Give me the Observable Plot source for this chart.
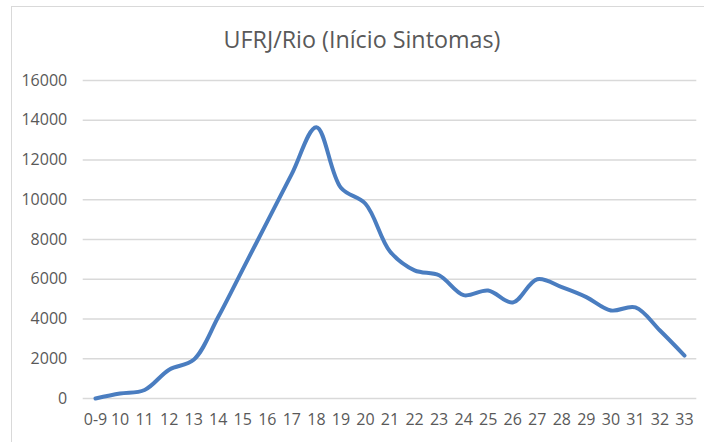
<!DOCTYPE html>
<html><head><meta charset="utf-8">
<script src="https://cdn.jsdelivr.net/npm/d3@7"></script>
<script src="https://cdn.jsdelivr.net/npm/@observablehq/plot@0.6"></script>
<style>
body{margin:0;background:#fff;}
#wrap{position:relative;width:704px;height:442px;overflow:hidden;font-family:"Open Sans",sans-serif;background:#fff;}
#frame{position:absolute;left:11px;top:6px;width:720px;height:460px;border:1px solid #d9d9d9;box-sizing:border-box;}
#title{position:absolute;left:0;width:724px;top:26px;text-align:center;font-size:23.3px;color:#595959;line-height:1.2;}
#chart{position:absolute;left:0;top:0;}
</style></head>
<body>
<div id="wrap">
  <div id="frame"></div>
  <div id="title">UFRJ/Rio (Início Sintomas)</div>
  <div id="chart"></div>
</div>
<script>
const weeks = ["0-9","10","11","12","13","14","15","16","17","18","19","20","21","22","23","24","25","26","27","28","29","30","31","32","33"];
const cases = [0,250,430,1450,1950,4100,6500,8900,11300,13650,10600,9800,7400,6450,6200,5200,5430,4830,6000,5600,5100,4430,4580,3420,2160];
const yTicks = [0,2000,4000,6000,8000,10000,12000,14000,16000];

const data = weeks.map((w,i)=>({week:w, value:cases[i]}));

const chart = Plot.plot({
  width:704,
  height:442,
  marginTop:80,
  marginBottom:44,
  marginLeft:82.7,
  marginRight:7.7,
  style:{fontFamily:"'Open Sans', sans-serif", fontSize:"16px", color:"#595959", background:"transparent"},
  x:{type:"point", domain:weeks, range:[95,684], padding:0, round:false, label:null, tickSize:0, tickPadding:15},
  y:{domain:[0,16000], ticks:yTicks, label:null, tickSize:0, tickPadding:16, tickFormat:d=>String(d)},
  marks:[
    Plot.ruleY(yTicks, {stroke:"#d9d9d9", strokeWidth:1.3}),
    Plot.lineY(data, {x:"week", y:"value", curve:"catmull-rom", stroke:"#4a7dc0", strokeWidth:4, strokeLinejoin:"round", strokeLinecap:"round"})
  ]
});
document.getElementById("chart").appendChild(chart);
</script>
</body></html>
